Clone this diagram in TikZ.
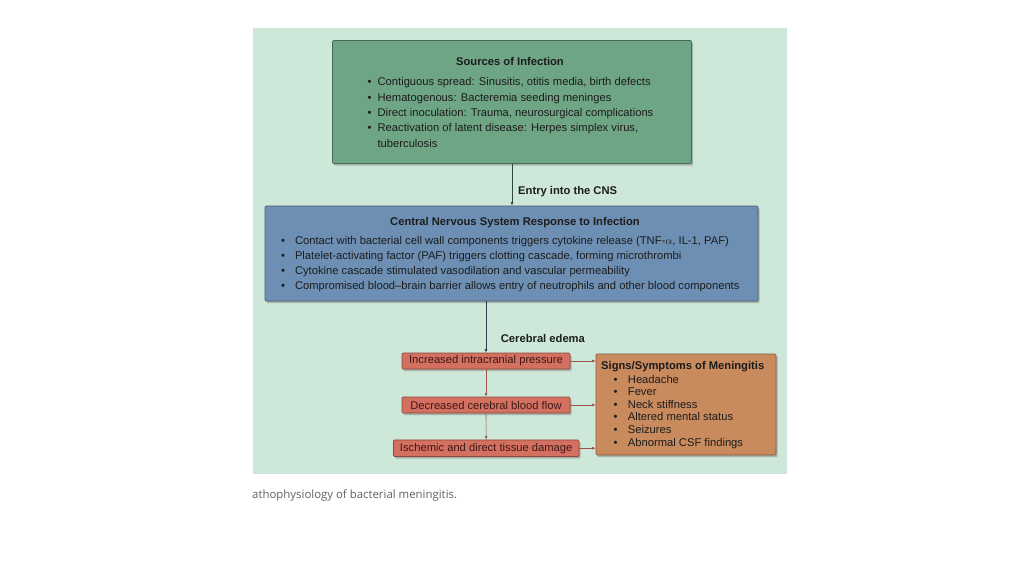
\documentclass[tikz,border=0pt]{standalone}
\usepackage{fontspec}
\setmainfont{Liberation Sans}
\newfontfamily\capfont{Open Sans}
\usetikzlibrary{shadows,arrows.meta}
\definecolor{bgmint}{HTML}{CDE8D9}
\definecolor{srcgreen}{HTML}{6EA585}
\definecolor{cnsblue}{HTML}{6D8FB3}
\definecolor{edemared}{HTML}{D4705F}
\definecolor{signorange}{HTML}{C98A5E}
\definecolor{inktext}{HTML}{1C1C1C}
\tikzset{
  box/.style={draw=#1!65!black, fill=#1, line width=0.6pt, rounded corners=1pt,
    drop shadow={shadow xshift=1.6pt, shadow yshift=-2.2pt, opacity=0.5}},
  txt/.style={inner sep=0pt, text=inktext, font=\fontsize{11.2}{15.3}\selectfont},
  stepbox/.style={box=edemared, inner sep=0pt, text=inktext!85!red,
    font=\fontsize{11.2}{13}\selectfont},
  flow/.style={draw=#1, line width=0.6pt, -{Latex[length=3.5pt,width=2.8pt]}}
}
\begin{document}
\begin{tikzpicture}[x=1pt,y=-1pt]
\useasboundingbox (0,0) rectangle (1024,576);
\fill[white] (0,0) rectangle (1024,576);
\fill[bgmint] (252.7,28) rectangle (787.3,474.3);
% sources
\node[box=srcgreen, minimum width=359pt, minimum height=123pt] (src) at (512,102) {};
\node[txt, anchor=base] (srctitle) at (510,65.5) {\bfseries Sources of Infection};
\node[txt, anchor=base west] (srclist) at (367.5,85.8) {\begin{tabular}[t]{@{}l@{\hspace{6pt}}l@{}}
\textbullet & Contiguous spread: Sinusitis, otitis media, birth defects\\
\textbullet & Hematogenous: Bacteremia seeding meninges\\
\textbullet & Direct inoculation: Trauma, neurosurgical complications\\
\textbullet & Reactivation of latent disease: Herpes simplex virus,\\
 & tuberculosis
\end{tabular}};
% CNS response
\node[box=cnsblue, minimum width=493pt, minimum height=95pt] (cns) at (511.5,253.5) {};
\node[txt, anchor=base] (cnstitle) at (515,225) {\bfseries Central Nervous System Response to Infection};
\node[txt, anchor=base west] (cnslist) at (280.9,244) {\begin{tabular}[t]{@{}l@{\hspace{10pt}}l@{}}
\textbullet & Contact with bacterial cell wall components triggers cytokine release (TNF-$\alpha$, IL-1, PAF)\\
\textbullet & Platelet-activating factor (PAF) triggers clotting cascade, forming microthrombi\\
\textbullet & Cytokine cascade stimulated vasodilation and vascular permeability\\
\textbullet & Compromised blood--brain barrier allows entry of neutrophils and other blood components
\end{tabular}};
\draw[flow=srcgreen!45!black] (src.south) -- (src.south |- cns.north);
\node[txt, anchor=base west] (entry) at (518,194) {\bfseries Entry into the CNS};
% edema chain
\node[stepbox, minimum width=168pt, minimum height=16pt] (icp) at (486,361) {Increased intracranial pressure};
\node[stepbox, minimum width=168pt, minimum height=16pt] (cbf) at (486,405) {Decreased cerebral blood flow};
\node[stepbox, minimum width=185.5pt, minimum height=16.5pt] (isch) at (486.2,448.2) {Ischemic and direct tissue damage};
\draw[flow=cnsblue!45!black] (cns.south -| icp.north) -- (icp.north);
\node[txt, anchor=base west] (edema) at (500.7,342) {\bfseries Cerebral edema};
\draw[flow=edemared!75!black] (icp.south) -- (cbf.north);
\draw[flow=edemared!75!black] (cbf.south) -- (isch.north);
% signs
\node[box=signorange, minimum width=180pt, minimum height=101pt] (signs) at (686,404.5) {};
\node[txt, anchor=base west] (signstitle) at (601,369.5) {\bfseries Signs/Symptoms of Meningitis};
\node[txt, anchor=base west, font=\fontsize{11.2}{12.55}\selectfont] (signlist) at (613.4,383.3) {\begin{tabular}[t]{@{}l@{\hspace{10.4pt}}l@{}}
\textbullet & Headache\\
\textbullet & Fever\\
\textbullet & Neck stiffness\\
\textbullet & Altered mental status\\
\textbullet & Seizures\\
\textbullet & Abnormal CSF findings
\end{tabular}};
\draw[flow=edemared!75!black] (icp.east) -- (icp.east -| signs.west);
\draw[flow=edemared!75!black] (cbf.east) -- (cbf.east -| signs.west);
\draw[flow=edemared!75!black] (isch.east) -- (isch.east -| signs.west);
% caption
\node[anchor=base west, inner sep=0pt, text=black!62, font=\capfont\fontsize{11.4}{13}\selectfont] (caption) at (252,498.5) {athophysiology of bacterial meningitis.};
\end{tikzpicture}
\end{document}
